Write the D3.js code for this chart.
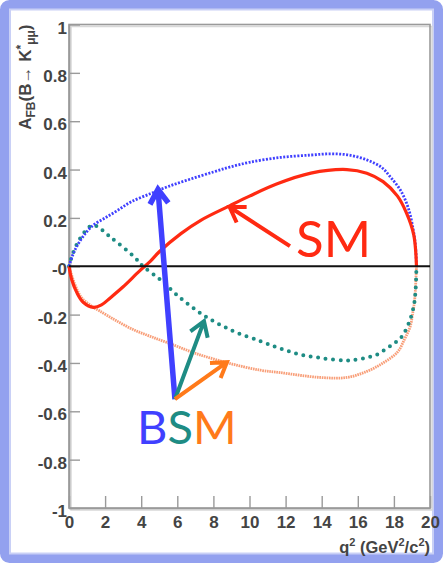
<!DOCTYPE html>
<html>
<head>
<meta charset="utf-8">
<script src="https://cdn.jsdelivr.net/npm/d3@7"></script>
<style>
  html, body { margin: 0; padding: 0; background: #fff; }
  svg { display: block; }
</style>
</head>
<body>
<svg id="chart" width="443" height="563"></svg>
<script>
// Forward-backward asymmetry of B -> K* mu mu versus q^2: SM and three BSM scenarios

// Standard Model curve
const smQ = [0, 0.15, 0.44, 0.8, 1.35, 1.8, 2.3, 3.0, 3.9, 4.5, 5.0, 6.2, 7.3, 8.9, 10.0, 11.5, 13.4, 15.4, 16.5, 17.4, 18.2, 18.7, 19.1, 19.25];
const smA = [0, -0.055, -0.11, -0.15, -0.17, -0.16, -0.13, -0.085, -0.02, 0.02, 0.06, 0.135, 0.19, 0.25, 0.29, 0.34, 0.385, 0.40, 0.385, 0.35, 0.29, 0.22, 0.13, 0];

// BSM scenario (blue, dotted)
const blueQ = [0, 0.2, 0.44, 0.9, 1.35, 2.0, 2.67, 3.4, 4.5, 5.5, 6.7, 8.0, 8.9, 10.0, 11.7, 13.4, 14.5, 15.5, 16.5, 17.3, 17.8, 18.4, 18.8, 19.05, 19.2, 19.25];
const blueA = [0, 0.045, 0.083, 0.135, 0.17, 0.2, 0.23, 0.265, 0.30, 0.33, 0.36, 0.39, 0.41, 0.43, 0.45, 0.46, 0.465, 0.46, 0.44, 0.41, 0.37, 0.31, 0.24, 0.16, 0.08, 0];

// BSM scenario (teal, dotted)
const tealQ = [0, 0.2, 0.5, 0.9, 1.35, 2.3, 3.6, 4.1, 5.05, 6.0, 7.4, 9.0, 10.6, 11.7, 12.8, 14.0, 15.3, 16.0, 16.6, 17.1, 17.6, 18.1, 18.45, 18.85, 19.1, 19.2, 19.25];
const tealA = [0, 0.05, 0.1, 0.145, 0.17, 0.12, 0.04, 0, -0.055, -0.12, -0.2, -0.265, -0.31, -0.34, -0.365, -0.38, -0.39, -0.385, -0.376, -0.364, -0.34, -0.314, -0.29, -0.23, -0.165, -0.1, 0];

// BSM scenario (orange)
const orangeQ = [0, 0.3, 0.7, 1.35, 1.7, 2.5, 3.5, 4.5, 5.6, 7.0, 8.8, 10.6, 11.7, 13.9, 15.4, 16.5, 17.4, 18.2, 18.6, 18.9, 19.05, 19.15, 19.25];
const orangeA = [0, -0.07, -0.13, -0.17, -0.185, -0.22, -0.26, -0.29, -0.32, -0.36, -0.40, -0.43, -0.44, -0.46, -0.46, -0.435, -0.40, -0.355, -0.30, -0.25, -0.19, -0.14, 0];

// Axis ticks
const xTicks = [0, 2, 4, 6, 8, 10, 12, 14, 16, 18, 20];
const yTicks = [-1, -0.8, -0.6, -0.4, -0.2, 0, 0.2, 0.4, 0.6, 0.8, 1];
const yTickLabels = ["-1", "-0.8", "-0.6", "-0.4", "-0.2", "-0", "0.2", "0.4", "0.6", "0.8", "1"];

// Annotation arrows (data units): tail -> tip
const arrowNames = ["sm", "blue", "teal", "orange"];
const arrowTailQ = [12.24, 5.87, 5.87, 5.87];
const arrowTailA = [0.083, -0.55, -0.55, -0.55];
const arrowTipQ = [8.9, 4.93, 7.48, 8.75];
const arrowTipA = [0.245, 0.318, -0.227, -0.397];

const colors = {
  sm: "#ff2a12",
  blue: "#4040ff",
  teal: "#1e8c84",
  orange: "#ff7a1a",
  orangeCurve: "#f89e78"
};

const svg = d3.select("#chart");

// Slide-style rounded blue border
svg.append("rect")
  .attr("x", 4.5).attr("y", 4.5).attr("width", 434).attr("height", 554)
  .attr("rx", 5)
  .attr("fill", "#fff")
  .attr("stroke", "#93a1ef").attr("stroke-width", 9);
svg.append("rect")
  .attr("x", 10).attr("y", 9.5).attr("width", 423).attr("height", 544)
  .attr("fill", "none")
  .attr("stroke", "#c9d0f6").attr("stroke-width", 2);

const x = d3.scaleLinear().domain([0, 20]).range([69, 430]);
const y = d3.scaleLinear().domain([-1, 1]).range([508, 24.5]);

const gFrame = svg.append("g");
// soft frame shadow
gFrame.append("rect")
  .attr("x", x(0) + 2).attr("y", y(1) + 2)
  .attr("width", x(20) - x(0)).attr("height", y(-1) - y(1))
  .attr("fill", "none").attr("stroke", "#d8d8d8").attr("stroke-width", 1.5);
gFrame.append("rect")
  .attr("x", x(0)).attr("y", y(1))
  .attr("width", x(20) - x(0)).attr("height", y(-1) - y(1))
  .attr("fill", "none").attr("stroke", "#9a9a9a").attr("stroke-width", 1.6);

const tickFont = "'Liberation Sans', Arial, Helvetica, sans-serif";

// Y axis (ticks pointing inward)
const yAxis = d3.axisLeft(y)
  .tickValues(yTicks)
  .tickFormat((d, i) => yTickLabels[i])
  .tickSizeInner(-11).tickSizeOuter(0).tickPadding(2);
const gy = svg.append("g").attr("transform", `translate(${x(0)},0)`).call(yAxis);
gy.select(".domain").attr("stroke", "#9a9a9a").attr("stroke-width", 1.6);
gy.selectAll(".tick line").attr("stroke", "#9a9a9a").attr("stroke-width", 1.4);
gy.selectAll(".tick text")
  .attr("font-family", tickFont).attr("font-size", 17).attr("font-weight", "bold")
  .attr("fill", "#444").attr("dy", "0.5em");

// X axis (ticks pointing inward)
const xAxis = d3.axisBottom(x)
  .tickValues(xTicks)
  .tickFormat(d3.format("d"))
  .tickSizeInner(-12).tickSizeOuter(0).tickPadding(8);
const gx = svg.append("g").attr("transform", `translate(0,${y(-1)})`).call(xAxis);
gx.select(".domain").attr("stroke", "#9a9a9a").attr("stroke-width", 1.6);
gx.selectAll(".tick line").attr("stroke", "#9a9a9a").attr("stroke-width", 1.4);
gx.selectAll(".tick text")
  .attr("font-family", tickFont).attr("font-size", 17).attr("font-weight", "bold")
  .attr("fill", "#444");

// Axis titles
const xt = svg.append("text")
  .attr("x", x(20)).attr("y", 553)
  .attr("text-anchor", "end")
  .attr("font-family", tickFont).attr("font-size", 16.5).attr("font-weight", "bold")
  .attr("fill", "#444");
xt.append("tspan").text("q");
xt.append("tspan").attr("font-size", 11).attr("dy", -7).text("2");
xt.append("tspan").attr("dy", 7).text(" (GeV");
xt.append("tspan").attr("font-size", 11).attr("dy", -7).text("2");
xt.append("tspan").attr("dy", 7).text("/c");
xt.append("tspan").attr("font-size", 11).attr("dy", -7).text("2");
xt.append("tspan").attr("dy", 7).text(")");

const yt = svg.append("text")
  .attr("transform", `translate(31,${y(1)}) rotate(-90)`)
  .attr("text-anchor", "end")
  .attr("font-family", tickFont).attr("font-size", 17).attr("font-weight", "bold")
  .attr("fill", "#444");
yt.append("tspan").text("A");
yt.append("tspan").attr("font-size", 12).attr("dy", 4).text("FB");
yt.append("tspan").attr("dy", -4).text("(B\u2192 K");
yt.append("tspan").attr("font-size", 12).attr("dy", -6).text("*");
yt.append("tspan").attr("font-size", 12).attr("dy", 10).text("\u03bc\u03bc");
yt.append("tspan").attr("dy", -4).text(")");

// Curves
const line = d3.line()
  .x(d => x(d[0])).y(d => y(d[1]))
  .curve(d3.curveCatmullRom.alpha(0.5));
const zip = (qs, as) => qs.map((q, i) => [q, as[i]]);

const gCurves = svg.append("g");
gCurves.append("path").datum(zip(orangeQ, orangeA))
  .attr("d", line).attr("fill", "none")
  .attr("stroke", colors.orangeCurve).attr("stroke-width", 2.8)
  .attr("stroke-dasharray", "1.6,0.8");
gCurves.append("path").datum(zip(tealQ, tealA))
  .attr("d", line).attr("fill", "none")
  .attr("stroke", colors.teal).attr("stroke-width", 4)
  .attr("stroke-linecap", "round").attr("stroke-dasharray", "0,7.5");
gCurves.append("path").datum(zip(blueQ, blueA))
  .attr("d", line).attr("fill", "none")
  .attr("stroke", colors.blue).attr("stroke-width", 2.8)
  .attr("stroke-dasharray", "2,1.5");
gCurves.append("path").datum(zip(smQ, smA))
  .attr("d", line).attr("fill", "none")
  .attr("stroke", colors.sm).attr("stroke-width", 3.2);

// Zero line
svg.append("line")
  .attr("x1", x(0)).attr("x2", x(20))
  .attr("y1", y(0)).attr("y2", y(0))
  .attr("stroke", "#111").attr("stroke-width", 2);

// Annotation arrows
const arrowWidth = { sm: 4, blue: 5.5, teal: 4, orange: 4 };
arrowNames.forEach((name, i) => {
  const x0 = x(arrowTailQ[i]), y0 = y(arrowTailA[i]);
  const x1 = x(arrowTipQ[i]), y1 = y(arrowTipA[i]);
  const ang = Math.atan2(y1 - y0, x1 - x0);
  const L = 17, spread = Math.PI / 5.5;
  const a1 = [x1 - L * Math.cos(ang - spread), y1 - L * Math.sin(ang - spread)];
  const a2 = [x1 - L * Math.cos(ang + spread), y1 - L * Math.sin(ang + spread)];
  const p = d3.path();
  p.moveTo(x0, y0); p.lineTo(x1, y1);
  p.moveTo(a1[0], a1[1]); p.lineTo(x1, y1); p.lineTo(a2[0], a2[1]);
  svg.append("path").attr("d", p.toString())
    .attr("fill", "none")
    .attr("stroke", colors[name])
    .attr("stroke-width", arrowWidth[name])
    .attr("stroke-linecap", "butt").attr("stroke-linejoin", "miter");
});

// Labels
const labelFont = "Lato, 'Open Sans', sans-serif";
svg.append("text")
  .attr("x", 296).attr("y", 257)
  .attr("font-family", labelFont).attr("font-size", 51)
  .attr("fill", colors.sm).text("SM");

const bsm = svg.append("text")
  .attr("x", 137).attr("y", 444)
  .attr("font-family", labelFont).attr("font-size", 47);
bsm.append("tspan").attr("fill", colors.blue).text("B");
bsm.append("tspan").attr("fill", colors.teal).text("S");
bsm.append("tspan").attr("fill", colors.orange).text("M");
</script>
</body>
</html>
